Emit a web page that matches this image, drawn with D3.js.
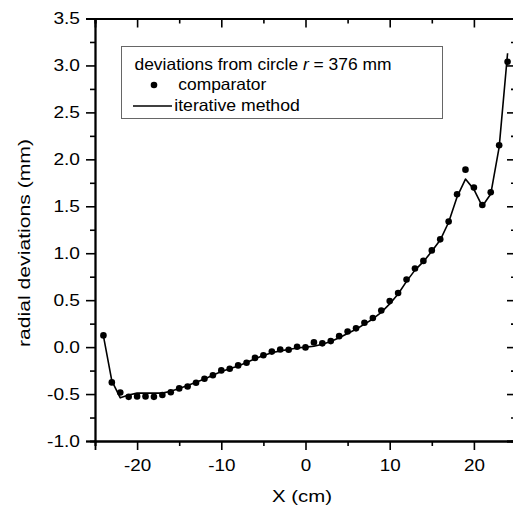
<!DOCTYPE html>
<html lang="en">
<head>
    <meta charset="UTF-8">
    <title>radial deviations</title>
    <script src="https://d3js.org/d3.v7.min.js"></script>
    <style>
        body { margin: 0; background: #fff; }
        svg text { font-family: "Liberation Sans", Arial, sans-serif; fill: #000; }
        .axis path { stroke: #000; stroke-width: 1.8; }
        .axis line { stroke: #000; stroke-width: 1.6; }
        .axis-label { font-size: 17px; }
        .legend-text { font-size: 16.5px; }
    </style>
</head>
<body>
    <svg width="513" height="509"></svg>
    <script>
        // positions along the cylinder (cm)
        const xPos = d3.range(-24, 25);
        // comparator measurements (mm)
        const comparator = [
            0.125, -0.376, -0.483, -0.53, -0.525, -0.525, -0.53, -0.51, -0.48, -0.44,
            -0.42, -0.38, -0.337, -0.30, -0.248, -0.23, -0.195, -0.167, -0.115, -0.087,
            -0.048, -0.025, -0.028, 0.004, -0.003, 0.05, 0.04, 0.064, 0.117, 0.167,
            0.20, 0.26, 0.31, 0.39, 0.49, 0.576, 0.72, 0.838, 0.918, 1.03,
            1.148, 1.337, 1.628, 1.89, 1.70, 1.514, 1.65, 2.15, 3.04
        ];
        // iterative method (mm)
        const iterative = [
            0.12, -0.36, -0.54, -0.51, -0.49, -0.49, -0.49, -0.49, -0.47, -0.44,
            -0.41, -0.375, -0.34, -0.30, -0.26, -0.23, -0.20, -0.165, -0.125, -0.09,
            -0.06, -0.04, -0.025, -0.01, 0.0, 0.01, 0.03, 0.06, 0.10, 0.145,
            0.19, 0.245, 0.30, 0.37, 0.46, 0.565, 0.70, 0.82, 0.91, 1.02,
            1.14, 1.33, 1.60, 1.79, 1.68, 1.50, 1.63, 2.13, 3.13
        ];
        const xMajor = [-20, -10, 0, 10, 20];
        const xMinor = [-25, -15, -5, 5, 15, 25];
        const yMajor = [-1.0, -0.5, 0.0, 0.5, 1.0, 1.5, 2.0, 2.5, 3.0, 3.5];
        const yMinor = [-0.75, -0.25, 0.25, 0.75, 1.25, 1.75, 2.25, 2.75, 3.25];

        const pLeft = 95, pRight = 516, pTop = 18.5, pBottom = 441;
        const svg = d3.select("svg");

        const x = d3.scaleLinear().domain([-25, 25]).range([pLeft, pRight]);
        const y = d3.scaleLinear().domain([-1, 3.5]).range([pBottom, pTop]);
        const fmt = d => d.toFixed(1);

        // the original lettering is a bit wider than Liberation Sans
        function stretch(sel, k) {
            sel.each(function () {
                const w = this.getComputedTextLength();
                d3.select(this).attr("textLength", w * k).attr("lengthAdjust", "spacingAndGlyphs");
            });
        }

        // minor ticks first
        svg.append("g").attr("class", "axis").attr("transform", `translate(0,${pBottom})`)
            .call(d3.axisBottom(x).tickValues(xMinor).tickSize(5).tickFormat(""));
        svg.append("g").attr("class", "axis").attr("transform", `translate(0,${pTop})`)
            .call(d3.axisTop(x).tickValues(xMinor).tickSize(-5).tickFormat(""));
        svg.append("g").attr("class", "axis").attr("transform", `translate(${pLeft},0)`)
            .call(d3.axisLeft(y).tickValues(yMinor).tickSize(5).tickFormat(""));
        svg.append("g").attr("class", "axis").attr("transform", `translate(${pRight},0)`)
            .call(d3.axisRight(y).tickValues(yMinor).tickSize(-5).tickFormat(""));

        // major ticks
        const xAxis = svg.append("g").attr("class", "axis").attr("transform", `translate(0,${pBottom})`)
            .call(d3.axisBottom(x).tickValues(xMajor).tickSize(9).tickPadding(9).tickFormat(d => d));
        svg.append("g").attr("class", "axis").attr("transform", `translate(0,${pTop})`)
            .call(d3.axisTop(x).tickValues(xMajor).tickSize(-9).tickFormat(""));
        const yAxis = svg.append("g").attr("class", "axis").attr("transform", `translate(${pLeft},0)`)
            .call(d3.axisLeft(y).tickValues(yMajor).tickSize(9).tickPadding(6).tickFormat(fmt));
        svg.append("g").attr("class", "axis").attr("transform", `translate(${pRight},0)`)
            .call(d3.axisRight(y).tickValues(yMajor).tickSize(-9).tickFormat(""));

        svg.selectAll(".axis text")
            .attr("font-size", null)
            .attr("font-family", null)
            .style("font-size", "16.5px")
            .attr("fill", "#000");
        stretch(xAxis.selectAll("text"), 1.14);
        stretch(yAxis.selectAll("text"), 1.16);

        // axis titles
        svg.append("text")
            .attr("class", "axis-label")
            .attr("x", 302)
            .attr("y", 501.5)
            .attr("text-anchor", "middle")
            .attr("textLength", 60)
            .attr("lengthAdjust", "spacingAndGlyphs")
            .text("X (cm)");
        svg.append("text")
            .attr("class", "axis-label")
            .attr("transform", "rotate(-90)")
            .attr("x", -243)
            .attr("y", 30)
            .attr("text-anchor", "middle")
            .attr("textLength", 208)
            .attr("lengthAdjust", "spacingAndGlyphs")
            .text("radial deviations (mm)");

        // iterative method line
        const line = d3.line().x((d, i) => x(xPos[i])).y(d => y(d));
        svg.append("path")
            .datum(iterative)
            .attr("fill", "none")
            .attr("stroke", "#000")
            .attr("stroke-width", 1.6)
            .attr("stroke-linejoin", "round")
            .attr("d", line);

        // comparator dots
        svg.selectAll(".dot")
            .data(comparator)
            .enter()
            .append("circle")
            .attr("class", "dot")
            .attr("cx", (d, i) => x(xPos[i]))
            .attr("cy", d => y(d))
            .attr("r", 3.3)
            .attr("fill", "#000");

        // legend
        const lg = svg.append("g");
        lg.append("rect")
            .attr("x", 121.5).attr("y", 46.5)
            .attr("width", 321).attr("height", 72)
            .attr("fill", "#fff")
            .attr("stroke", "#666")
            .attr("stroke-width", 1);
        const t1 = lg.append("text").attr("class", "legend-text").attr("x", 134.5).attr("y", 69.5)
            .attr("textLength", 257).attr("lengthAdjust", "spacingAndGlyphs");
        t1.append("tspan").text("deviations from circle ");
        t1.append("tspan").attr("font-style", "italic").text("r");
        t1.append("tspan").text(" = 376 mm");
        lg.append("circle").attr("cx", 154).attr("cy", 85).attr("r", 3.3).attr("fill", "#000");
        lg.append("text").attr("class", "legend-text").attr("x", 178.3).attr("y", 90)
            .attr("textLength", 88).attr("lengthAdjust", "spacingAndGlyphs")
            .text("comparator");
        lg.append("line")
            .attr("x1", 133).attr("x2", 172)
            .attr("y1", 106).attr("y2", 106)
            .attr("stroke", "#000").attr("stroke-width", 1.6);
        lg.append("text").attr("class", "legend-text").attr("x", 174.3).attr("y", 110.5)
            .attr("textLength", 125.5).attr("lengthAdjust", "spacingAndGlyphs")
            .text("iterative method");
    </script>
</body>
</html>
